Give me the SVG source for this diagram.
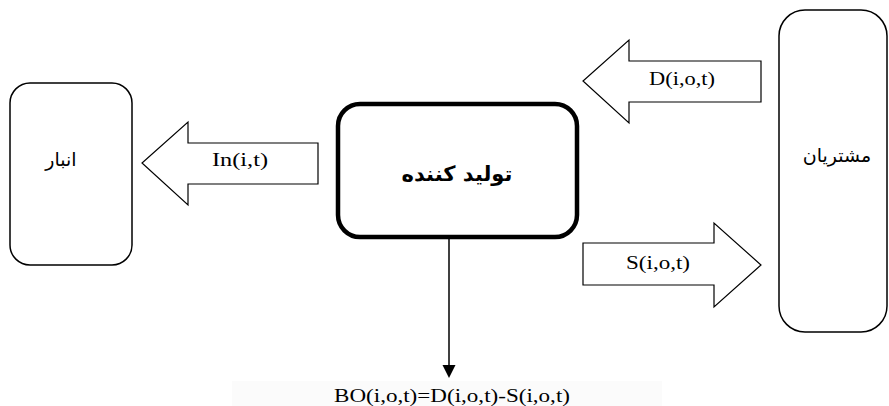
<svg xmlns="http://www.w3.org/2000/svg" width="889" height="406" viewBox="0 0 889 406">
<style>
.box{fill:#fff;stroke:#000;stroke-width:1.5}
.main{fill:#fff;stroke:#000;stroke-width:4.5}
.arr{fill:#fff;stroke:#000;stroke-width:1.2;stroke-linejoin:miter}
.lat{font-family:"Liberation Serif","Times New Roman",serif;font-size:19px;fill:#000;text-anchor:middle}
.fa{font-family:"DejaVu Sans","Noto Sans",sans-serif;font-size:19px;fill:#000;text-anchor:middle}
.fab{font-family:"DejaVu Sans","Noto Sans",sans-serif;font-size:21px;font-weight:bold;fill:#000;text-anchor:middle}
</style>
<rect x="0" y="0" width="889" height="406" fill="#fff"/>
<rect x="232" y="381" width="430" height="25" fill="#fbfbfb"/>
<g id="anbar">
<rect class="box" x="10" y="83" width="122" height="182" rx="20"/>
<text class="fa" x="61" y="166" direction="rtl">انبار</text>
</g>
<g id="producer">
<rect class="main" x="338" y="104" width="239" height="133" rx="22"/>
<text class="fab" x="457" y="181" direction="rtl">تولید کننده</text>
</g>
<g id="customers">
<rect class="box" x="779" y="10" width="108" height="322" rx="26"/>
<text class="fa" x="837" y="162" direction="rtl">مشتریان</text>
</g>
<g id="connectors">
<path class="arr" d="M318,143 L188,143 L188,122 L142,163 L188,205 L188,184 L318,184 Z"/>
<text class="lat" x="240" y="166" textLength="56" lengthAdjust="spacingAndGlyphs">In(i,t)</text>
<path class="arr" d="M761,61 L629,61 L629,40 L583,81 L629,123 L629,102 L761,102 Z"/>
<text class="lat" x="682" y="85" textLength="66" lengthAdjust="spacingAndGlyphs">D(i,o,t)</text>
<path class="arr" d="M583,243 L714,243 L714,223 L761,265 L714,307 L714,285 L583,285 Z"/>
<text class="lat" x="658" y="269" textLength="64" lengthAdjust="spacingAndGlyphs">S(i,o,t)</text>
<line x1="449" y1="237" x2="449" y2="366" stroke="#000" stroke-width="1.5"/>
<polygon points="442.5,365 455.5,365 449,378" fill="#000"/>
<text class="lat" x="452" y="402" textLength="236" lengthAdjust="spacingAndGlyphs">BO(i,o,t)=D(i,o,t)-S(i,o,t)</text>
</g>
</svg>
